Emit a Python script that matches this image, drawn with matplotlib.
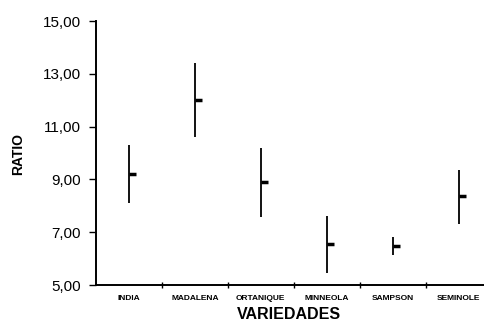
import matplotlib.pyplot as plt
import numpy as np

plt.rcParams['font.family'] = ['Liberation Sans', 'DejaVu Sans']

# data
variedades = ['INDIA', 'MADALENA', 'ORTANIQUE', 'MINNEOLA', 'SAMPSON', 'SEMINOLE']
ratio_mean = [9.22, 12.00, 8.90, 6.55, 6.48, 8.37]
ratio_low = [8.10, 10.60, 7.58, 5.45, 6.13, 7.30]
ratio_high = [10.30, 13.40, 10.20, 7.60, 6.82, 9.36]
y_ticks = [5, 7, 9, 11, 13, 15]

x = np.arange(len(variedades))
mean = np.array(ratio_mean)
err = [mean - np.array(ratio_low), np.array(ratio_high) - mean]

fig = plt.figure(figsize=(4.84, 3.24), dpi=100)
ax = fig.add_axes([0.198, 0.120, 0.818, 0.815])

ax.errorbar(x, mean, yerr=err, fmt='none', ecolor='black', elinewidth=1.3, capsize=0)
ax.plot(x, mean, linestyle='none', marker=1, markersize=5, markeredgewidth=2.5, color='black')

ax.set_xlim(-0.5, len(variedades) - 0.5)
ax.set_ylim(5, 15)
ax.set_yticks(y_ticks)
ax.set_yticklabels([f'{v:.2f}'.replace('.', ',') for v in y_ticks], fontsize=11)
ax.tick_params(axis='y', direction='out', length=5, width=1, pad=6)

ax.set_xticks(x)
ax.set_xticklabels(variedades, fontsize=6, fontweight='bold')
ax.tick_params(axis='x', length=0, pad=7)
ax.set_xticks(np.arange(0.5, len(variedades) - 0.5, 1), minor=True)
ax.tick_params(axis='x', which='minor', direction='inout', length=5, width=1)

for s in ['top', 'right']:
    ax.spines[s].set_visible(False)
for s in ['left', 'bottom']:
    ax.spines[s].set_linewidth(1.4)

fig.text(0.038, 0.525, 'RATIO', rotation=90, fontsize=10, fontweight='bold',
         ha='center', va='center')
fig.text(0.597, 0.028, 'VARIEDADES', fontsize=11.5, fontweight='bold',
         ha='center', va='center')

fig.savefig('out.png', dpi=100)
